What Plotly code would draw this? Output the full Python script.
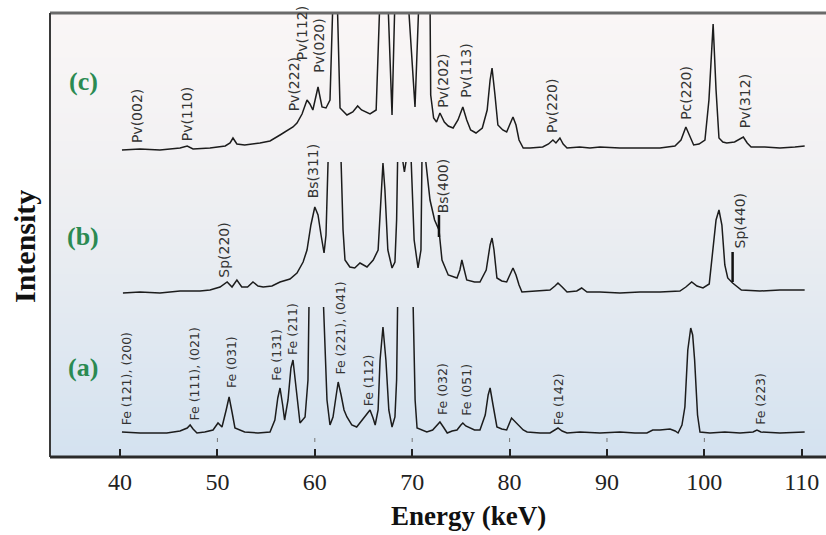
import plotly.graph_objects as go

# ---------------- data ----------------
# trace (a): Fe phase ; intensity relative to its own baseline, None = clipped top
energy_a = [40.2, 42.05, 44.8, 46.16, 46.9, 47.2, 47.5, 47.9, 48.7, 49.55, 50.06, 50.47, 50.9, 51.2, 51.5, 51.8,
            52.8, 54.17, 55.4, 55.9, 56.2, 56.43, 56.7, 56.9, 57.25, 57.55, 57.76, 58.07, 58.48, 59.0, 59.3, 59.4,
            59.6, 60.9, 61.25, 61.56, 61.87, 62.2, 62.4, 62.7, 63.0, 63.3, 63.8, 64.3, 64.64, 65.15, 65.67, 65.98,
            66.2, 66.5, 66.7, 67.0, 67.3, 67.6, 67.93, 68.23, 68.4, 68.5, 69.3, 70.1, 70.3, 70.5, 71.0, 71.5, 72.1,
            72.5, 72.85, 73.2, 73.6, 74.1, 74.6, 75.0, 75.2, 75.5, 75.9, 76.4, 76.96, 77.5, 77.8, 78.0, 78.3, 78.7,
            79.2, 79.7, 80.2, 80.5, 80.97, 81.4, 81.8, 83.12, 84.15, 84.66, 84.97, 85.4, 85.9, 87.23, 89.28, 91.33,
            92.87, 94.1, 94.7, 95.44, 96.47, 97.0, 97.3, 97.7, 98.0, 98.3, 98.6, 98.8, 99.0, 99.3, 99.55, 100.57,
            102.1, 103.66, 105.0, 105.4, 105.8, 107.76, 110.3]
intensity_a = [1, 0, 0, 2, 5, 8, 4, 0, 1, 3, 10, 6, 23, 36, 21, 5,
               1, 0, 1, 13, 35, 45, 28, 13, 33, 65, 73, 48, 10, 16, 53, 126,
               None, 126, 33, 8, 16, 38, 51, 38, 23, 16, 8, 6, 10, 16, 23, 15,
               8, 23, 73, 106, 73, 23, 6, 16, 53, 126, None, 126, 33, 5, 3, 1, 3,
               7, 11, 6, 0, 2, 3, 8, 10, 7, 5, 3, 3, 18, 38, 45, 28, 6,
               4, 3, 15, 12, 8, 3, 1, 0, 0, 3, 5, 2, 0, 1, 0, 1,
               0, 0, 3, 3, 4, 2, 0, 8, 26, 83, 105, 98, 73, 18, 1, 0,
               1, 0, 1, 3, 1, 0, 1]

# trace (b): Bs / Sp phases
energy_b = [40.3, 42.05, 44.1, 46.16, 48.21, 49.24, 50.27, 51.0, 51.5, 52.0, 52.5, 53.1, 53.65, 54.17, 54.7, 55.6,
            56.43, 57.45, 58.17, 58.8, 59.2, 59.6, 60.0, 60.33, 60.64, 60.95, 61.15, 61.36, 62.0, 62.7, 62.9, 63.1,
            63.6, 64.1, 64.64, 65.36, 66.0, 66.5, 66.8, 67.0, 67.2, 67.5, 67.93, 68.23, 68.4, 68.5, 68.8, 69.05,
            69.2, 69.36, 69.6, 69.9, 70.2, 70.6, 70.9, 71.0, 71.2, 71.4, 71.83, 72.3, 72.75, 73.06, 73.7, 74.6, 74.9,
            75.1, 75.4, 75.6, 76.4, 76.96, 77.6, 78.0, 78.2, 78.4, 78.7, 79.2, 79.7, 80.0, 80.35, 80.66, 80.97,
            81.27, 82.6, 84.15, 84.66, 84.97, 85.4, 85.9, 86.9, 87.4, 87.95, 89.28, 91.33, 93.39, 95.44, 97.49,
            98.1, 98.7, 99.24, 99.86, 100.5, 100.9, 101.2, 101.5, 101.8, 102.1, 102.4, 102.9, 103.8, 105.7,
            107.76, 110.3]
intensity_b = [-1, 0, -1, 1, 1, 2, 5, 10, 5, 12, 5, 5, 10, 6, 5, 6,
               10, 13, 19, 30, 42, 67, 85, 77, 57, 39, 57, 130, None, 130, 62, 32,
               25, 24, 29, 25, 32, 42, 92, 129, 102, 42, 24, 30, 72, 130, None, 130,
               120, 130, None, 130, 52, 24, 42, 130, None, 130, 92, 72, 62, 32, 17, 14, 22,
               32, 20, 12, 10, 10, 22, 47, 54, 42, 14, 11, 10, 17, 24, 17, 7,
               0, 1, 2, 6, 9, 5, 0, 1, 4, 0, 0, -1, 0, 0, 1,
               5, 10, 6, 4, 8, 42, 72, 82, 67, 27, 14, 9, 2, 1,
               2, 2]

# trace (c): Pv / Pc phases (top peaks run off the frame)
energy_c = [40.2, 42.05, 44.1, 46.16, 46.9, 47.5, 49.24, 50.8, 51.3, 51.6, 52.0, 52.8, 54.37, 55.4, 56.43, 57.15,
            57.76, 58.17, 58.69, 59.2, 59.5, 59.8, 60.33, 60.74, 61.15, 61.56, 61.87, 62.3, 62.59, 63.3, 63.9, 64.4,
            64.8, 65.67, 66.3, 66.69, 67.5, 67.93, 68.23, 69.57, 70.29, 70.7, 71.83, 71.9, 72.2, 72.5, 72.85, 73.3,
            73.7, 74.2, 74.7, 75.2, 75.6, 76.0, 76.55, 77.2, 77.7, 78.0, 78.2, 78.5, 78.8, 79.3, 79.7, 80.0, 80.35,
            80.66, 80.97, 81.4, 82.1, 83.4, 84.0, 84.45, 84.76, 85.17, 85.5, 85.9, 87.2, 88.25, 89.28, 91.33, 93.39,
            95.44, 96.98, 97.6, 98.1, 98.5, 98.9, 99.45, 100.06, 100.47, 100.9, 101.2, 101.5, 101.9, 102.3, 103.1,
            103.66, 104.0, 104.4, 104.8, 106.2, 107.76, 109.3, 110.3]
intensity_c = [-2, -1, -2, 0, 2, -1, 0, 2, 5, 10, 4, 3, 5, 7, 13, 17,
               21, 25, 34, 48, 44, 38, 61, 41, 40, 48, 150, 150, 40, 33, 36, 42,
               38, 34, 38, 150, 150, 33, 150, 150, 41, 150, 150, 53, 30, 26, 35, 26,
               22, 20, 28, 41, 28, 18, 15, 20, 38, 68, 80, 53, 23, 18, 16, 23, 31,
               23, 8, 0, 0, 1, 4, 8, 5, 10, 4, 0, 1, 0, 1, 0, 0,
               0, 2, 8, 21, 11, 3, 4, 8, 48, 124, 58, 10, 6, 5, 6,
               9, 11, 5, 1, 1, 0, 1, 2]

trace_names = ["(a)", "(b)", "(c)"]
baseline_offsets = [24, 165, 309]

# peak labels: (text, energy, label bottom level in plot units)
labels_c = [("Pv(002)", 41.75, 312), ("Pv(110)", 46.9, 314), ("Pv(222)", 57.9, 344), ("Pv(112)", 58.7, 395),
            ("Pv(020)", 60.4, 382), ("Pv(202)", 73.15, 347), ("Pv(113)", 75.5, 357), ("Pv(220)", 84.35, 322),
            ("Pc(220)", 98.1, 335), ("Pv(312)", 104.2, 327)]
labels_b = [("Sp(220)", 50.6, 177), ("Bs(311)", 59.8, 257), ("Bs(400)", 73.15, 242), ("Sp(440)", 103.65, 207)]
labels_a = [("Fe (121), (200)", 40.7, 30), ("Fe (111), (021)", 47.6, 34), ("Fe (031)", 51.4, 67),
            ("Fe (131)", 56.0, 74), ("Fe (211)", 57.65, 100), ("Fe (221), (041)", 62.6, 80),
            ("Fe (112)", 65.5, 49), ("Fe (032)", 73.06, 40), ("Fe (051)", 75.5, 39),
            ("Fe (142)", 85.0, 30), ("Fe (223)", 105.7, 30)]
# leader marks (energy, from level, to level)
leaders = [(72.75, 220, 242), (102.9, 175, 205)]

tick_vals = [40, 50, 60, 70, 80, 90, 100, 110]

# ---------------- figure ----------------
X_RANGE = [32.81, 112.49]
Y_RANGE = [0, 444]

fig = go.Figure()

series = [(energy_a, intensity_a), (energy_b, intensity_b), (energy_c, intensity_c)]
for (ex, iy), off, nm in zip(series, baseline_offsets, trace_names):
    fig.add_trace(go.Scatter(
        x=ex, y=[None if v is None else v + off for v in iy], name=nm,
        mode="lines", line=dict(color="#1c1c1c", width=1.5),
        connectgaps=False, showlegend=False, hoverinfo="skip"))

# background gradient (bottom light blue -> top near white)
stops = [(0.0, (212, 226, 240)), (0.35, (228, 234, 241)), (0.62, (240, 240, 242)), (1.0, (250, 246, 246))]
def col(t):
    for (t0, c0), (t1, c1) in zip(stops[:-1], stops[1:]):
        if t0 <= t <= t1:
            f = (t - t0) / (t1 - t0)
            return "rgb(%d,%d,%d)" % tuple(round(a + (b - a) * f) for a, b in zip(c0, c1))
    return "rgb(%d,%d,%d)" % stops[-1][1]

shapes = []
N = 80
for i in range(N):
    y0 = i / N
    y1 = (i + 1) / N + 0.002
    shapes.append(dict(type="rect", xref="paper", yref="paper", x0=0, x1=1, y0=y0, y1=min(y1, 1),
                       fillcolor=col((i + 0.5) / N), line=dict(width=0), layer="below"))

# frame lines
shapes.append(dict(type="line", xref="paper", yref="paper", x0=0, x1=1, y0=1, y1=1,
                   line=dict(color="#6a6a6a", width=3)))
shapes.append(dict(type="line", xref="paper", yref="paper", x0=0, x1=0, y0=0, y1=1,
                   line=dict(color="#3a3a3a", width=2)))
shapes.append(dict(type="line", xref="paper", yref="paper", x0=0, x1=1, y0=0, y1=0,
                   line=dict(color="#2a2a2a", width=3)))

for e, lo, hi in leaders:
    shapes.append(dict(type="line", xref="x", yref="y", x0=e, x1=e, y0=lo, y1=hi,
                       line=dict(color="#111", width=2.5)))

# faint guide marks just above the axis
for t in tick_vals[1:-1]:
    shapes.append(dict(type="line", xref="x", yref="y", x0=t, x1=t, y0=15, y1=19,
                       line=dict(color="#777", width=1)))

annotations = []
for group, size in ((labels_c, 14), (labels_b, 14), (labels_a, 12.5)):
    for txt, e, yb in group:
        annotations.append(dict(x=e, y=yb, xref="x", yref="y", text=txt, textangle=-90,
                                showarrow=False, xanchor="center", yanchor="bottom",
                                font=dict(family="DejaVu Sans, Arial, sans-serif", size=size, color="#333")))

# panel letters
for txt, yp in zip(trace_names, [367, 236, 82]):
    annotations.append(dict(x=(83 - 50) / 776, y=(457 - yp) / 444, xref="paper", yref="paper", text="<b>%s</b>" % txt,
                            showarrow=False, xanchor="center", yanchor="middle",
                            font=dict(family="Liberation Serif, Times New Roman, serif", size=26, color="#2b8a52")))

annotations.append(dict(x=(25 - 50) / 776, y=(457 - 247) / 444, xref="paper", yref="paper", text="<b>Intensity</b>",
                        textangle=-90, showarrow=False, xanchor="center", yanchor="middle",
                        font=dict(family="Liberation Serif, Times New Roman, serif", size=30, color="#111")))
annotations.append(dict(x=(468 - 50) / 776, y=(457 - 516) / 444, xref="paper", yref="paper", text="<b>Energy (keV)</b>",
                        showarrow=False, xanchor="center", yanchor="middle",
                        font=dict(family="Liberation Serif, Times New Roman, serif", size=27, color="#111")))

fig.update_layout(
    width=826, height=535,
    margin=dict(l=50, r=0, t=13, b=78),
    paper_bgcolor="white", plot_bgcolor="rgba(0,0,0,0)",
    shapes=shapes, annotations=annotations,
    xaxis=dict(range=X_RANGE, showgrid=False, zeroline=False, showline=False,
               tickmode="array", tickvals=tick_vals, ticktext=[str(t) for t in tick_vals],
               ticks="inside", ticklen=8, tickwidth=2, tickcolor="#222",
               ticklabelstandoff=8,
               tickfont=dict(family="Liberation Serif, Times New Roman, serif", size=24, color="#222")),
    yaxis=dict(range=Y_RANGE, showgrid=False, zeroline=False, showline=False,
               showticklabels=False, ticks=""),
)

fig.write_html("out.html", config={"displayModeBar": False},
               post_script="document.body.style.margin='0px';document.body.style.overflow='hidden';")
